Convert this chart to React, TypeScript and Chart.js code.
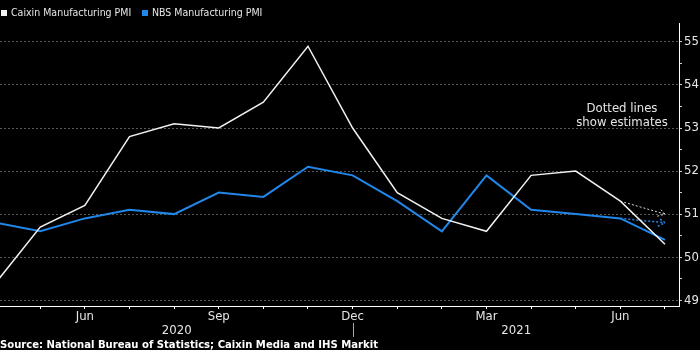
import React, { useEffect, useRef } from "react";
import { Chart, registerables } from "chart.js";

Chart.register(...registerables);

// ---- data ----
const months = ["Apr", "May", "Jun", "Jul", "Aug", "Sep", "Oct", "Nov", "Dec", "Jan", "Feb", "Mar", "Apr", "May", "Jun", "Jul"];
const caixin = [49.4, 50.7, 51.2, 52.8, 53.1, 53.0, 53.6, 54.9, 53.0, 51.5, 50.9, 50.6, 51.9, 52.0, 51.3, 50.3];
const nbs = [50.8, 50.6, 50.9, 51.1, 51.0, 51.5, 51.4, 52.1, 51.9, 51.3, 50.6, 51.9, 51.1, 51.0, 50.9, 50.4];
const estIndex = [14, 15];
const caixinEst = [51.3, 51.0];
const nbsEst = [50.9, 50.8];
const labeledMonths = [2, 5, 8, 11, 14];
const yearLabels = ["2020", "2021"];
const yearBreakIndex = 8;
const yTickValues = [49, 49.5, 50, 50.5, 51, 51.5, 52, 52.5, 53, 53.5, 54, 54.5, 55];
const legendLabels = ["Caixin Manufacturing PMI", "NBS Manufacturing PMI"];
const noteLines = ["Dotted lines", "show estimates"];
const sourceText = "Source: National Bureau of Statistics; Caixin Media and IHS Markit";

const FONT = "'DejaVu Sans Condensed', 'DejaVu Sans', sans-serif";
const WHITE = "#f2f2f2";
const BLUE = "#2187ea";
const TEXT = "#e6e6e6";

const toPoints = (vals: number[], idx?: number[]) =>
  vals.map((v, i) => ({ x: idx ? idx[i] : i, y: v }));

const decorPlugin = {
  id: "decor",
  beforeDraw(chart: any) {
    const { ctx } = chart;
    ctx.save();
    ctx.fillStyle = "#000";
    ctx.fillRect(0, 0, chart.width, chart.height);
    ctx.restore();
  },
  afterDatasetsDraw(chart: any) {
    const { ctx } = chart;
    // arrowheads on estimate lines
    [2, 3].forEach((di) => {
      const meta = chart.getDatasetMeta(di);
      const pts = meta.data;
      if (pts.length < 2) return;
      const a = pts[pts.length - 2];
      const b = pts[pts.length - 1];
      const ang = Math.atan2(b.y - a.y, b.x - a.x);
      const len = 8;
      const spread = 0.55;
      ctx.save();
      ctx.strokeStyle = chart.data.datasets[di].borderColor;
      ctx.lineWidth = chart.data.datasets[di].borderWidth;
      ctx.setLineDash([2, 2]);
      ctx.beginPath();
      ctx.moveTo(b.x - len * Math.cos(ang - spread), b.y - len * Math.sin(ang - spread));
      ctx.lineTo(b.x, b.y);
      ctx.lineTo(b.x - len * Math.cos(ang + spread), b.y - len * Math.sin(ang + spread));
      ctx.stroke();
      ctx.restore();
    });
  },
  afterDraw(chart: any) {
    const { ctx, chartArea } = chart;
    const xs = chart.scales.x;
    ctx.save();
    // legend
    ctx.font = `10.5px ${FONT}`;
    ctx.textBaseline = "middle";
    ctx.textAlign = "left";
    ctx.fillStyle = WHITE;
    ctx.fillRect(1, 10, 6, 6);
    ctx.fillStyle = TEXT;
    ctx.fillText(legendLabels[0], 11, 13.5);
    ctx.fillStyle = BLUE;
    ctx.fillRect(142, 10, 6, 6);
    ctx.fillStyle = TEXT;
    ctx.fillText(legendLabels[1], 152, 13.5);

    // note
    ctx.font = `13px ${FONT}`;
    ctx.textAlign = "center";
    ctx.textBaseline = "alphabetic";
    ctx.fillText(noteLines[0], 622, 112);
    ctx.fillText(noteLines[1], 622, 126);

    // year separator and labels
    const sep = Math.round(xs.getPixelForValue(yearBreakIndex)) + 0.5;
    ctx.strokeStyle = "#aaa";
    ctx.lineWidth = 1;
    ctx.beginPath();
    ctx.moveTo(sep, 323);
    ctx.lineTo(sep, 337);
    ctx.stroke();
    ctx.textAlign = "center";
    ctx.fillStyle = TEXT;
    ctx.fillText(yearLabels[0], (chartArea.left + sep) / 2, 334);
    ctx.fillText(yearLabels[1], (sep + chartArea.right) / 2, 334);

    // source
    ctx.font = `bold 11.2px ${FONT}`;
    ctx.textAlign = "left";
    ctx.fillStyle = "#ffffff";
    ctx.fillText(sourceText, 0, 348);
    ctx.restore();
  },
};

export default function App() {
  const ref = useRef<HTMLCanvasElement | null>(null);
  useEffect(() => {
    document.body.style.margin = "0";
    document.body.style.background = "#000";
    const canvas = ref.current;
    if (!canvas) return;
    const chart = new Chart(canvas, {
      type: "line",
      data: {
        datasets: [
          {
            label: legendLabels[0],
            data: toPoints(caixin),
            borderColor: WHITE,
            borderWidth: 1.5,
            pointRadius: 0,
            tension: 0,
            order: 0,
          },
          {
            label: legendLabels[1],
            data: toPoints(nbs),
            borderColor: BLUE,
            borderWidth: 2,
            pointRadius: 0,
            tension: 0,
            order: 1,
          },
          {
            label: "Caixin est",
            data: toPoints(caixinEst, estIndex),
            borderColor: "#d8d8d8",
            borderWidth: 1,
            borderDash: [2, 2],
            pointRadius: 0,
            order: 2,
          },
          {
            label: "NBS est",
            data: toPoints(nbsEst, estIndex),
            borderColor: BLUE,
            borderWidth: 1.5,
            borderDash: [2, 2],
            pointRadius: 0,
            order: 3,
          },
        ],
      },
      options: {
        animation: false,
        responsive: false,
        maintainAspectRatio: false,
        layout: { padding: { top: 23, left: 0, right: 0, bottom: 0 } },
        plugins: { legend: { display: false }, tooltip: { enabled: false } },
        scales: {
          x: {
            type: "linear",
            min: 0.0986,
            max: 15.314,
            afterBuildTicks: (s: any) => {
              s.ticks = months.map((_, i) => ({ value: i })).filter((t) => t.value >= s.min && t.value <= s.max);
            },
            ticks: {
              autoSkip: false,
              maxRotation: 0,
              minRotation: 0,
              padding: 0,
              color: TEXT,
              font: { family: FONT, size: 13 },
              callback: (v: any) => (labeledMonths.includes(v) ? months[v] : ""),
            },
            grid: { drawOnChartArea: false, drawTicks: true, tickLength: 3, tickColor: "#ffffff", tickWidth: 1 },
            border: { display: true, color: "#ffffff", width: 1 },
            afterFit: (s: any) => {
              s.height = 44;
            },
          },
          y: {
            type: "linear",
            position: "right",
            min: 48.865,
            max: 55.44,
            afterBuildTicks: (s: any) => {
              s.ticks = yTickValues.map((v) => ({ value: v }));
            },
            ticks: {
              autoSkip: false,
              padding: 2,
              color: TEXT,
              font: { family: FONT, size: 13 },
              callback: (v: any) => (Number.isInteger(v) ? String(v) : ""),
            },
            grid: {
              drawTicks: true,
              tickLength: 3,
              tickColor: "#cccccc",
              color: (ctx: any) => (ctx.tick && Number.isInteger(ctx.tick.value) ? "#5a5a5a" : "rgba(0,0,0,0)"),
              lineWidth: 1,
            },
            border: { display: true, color: "#ffffff", width: 1, dash: [2, 2] },
            afterFit: (s: any) => {
              s.width = 21;
            },
          },
        },
      },
      plugins: [decorPlugin],
    });
    return () => chart.destroy();
  }, []);
  return (
    <div style={{ width: 700, height: 350, background: "#000" }}>
      <canvas ref={ref} width={700} height={350} style={{ display: "block" }} />
    </div>
  );
}
